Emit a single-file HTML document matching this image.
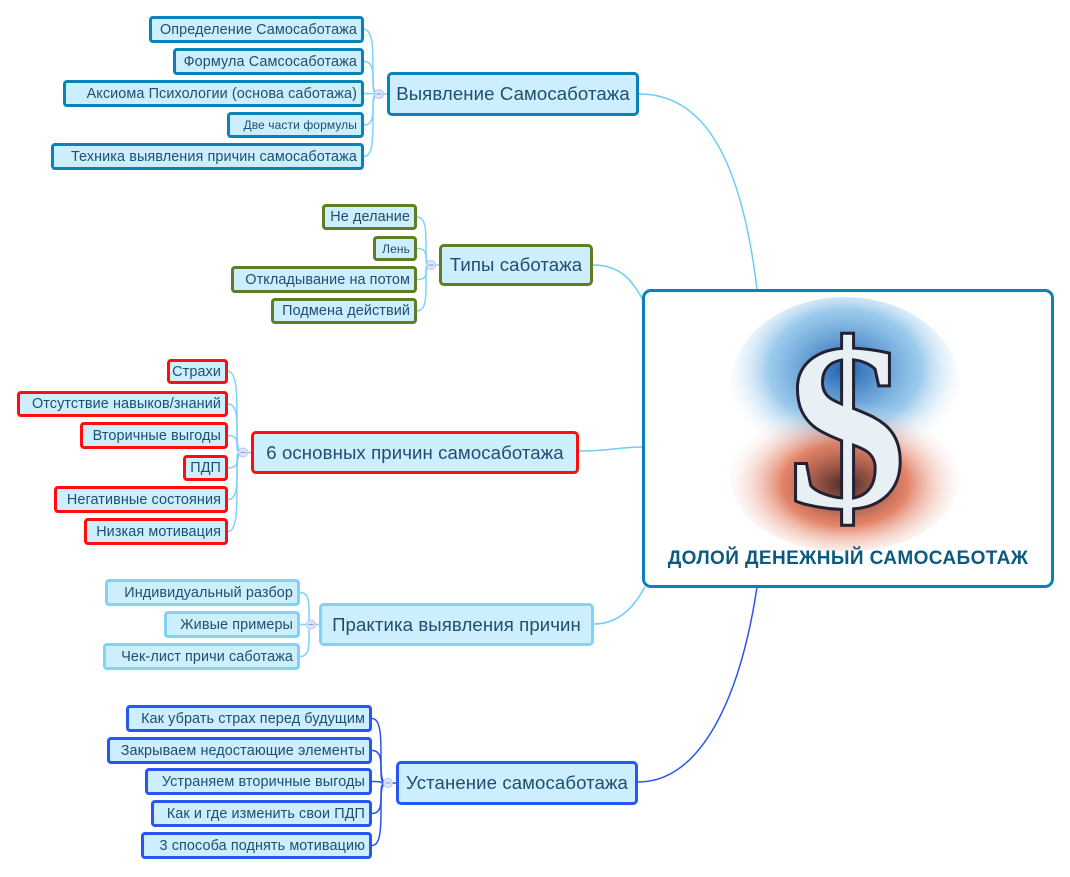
<!DOCTYPE html>
<html><head><meta charset="utf-8"><style>
body{margin:0;width:1070px;height:877px;background:#fff;position:relative;overflow:hidden;font-family:"Liberation Sans","DejaVu Sans",sans-serif}
.n{position:absolute;box-sizing:border-box;background:#cdeefc;border:3px solid #0a82b9;border-radius:4px;color:#1f4e70;font-size:14.4px;text-align:right;padding-right:4px;display:flex;align-items:center;justify-content:flex-end;white-space:nowrap;letter-spacing:0.1px}
.m{font-size:18.6px;justify-content:center;padding:0;border-radius:5px}
.g{border-color:#5f7d22}.r{border-color:#ff0d0d}.l{border-color:#7ed3f7}.b{border-color:#2855f5}
svg{position:absolute;left:0;top:0}
#root{position:absolute;left:642px;top:289px;width:412px;height:299px;box-sizing:border-box;border:3px solid #0a82b9;border-radius:9px;background:#fff}
#title{position:absolute;left:0;right:0;top:256px;text-align:center;font-weight:bold;font-size:19px;color:#0d5a80;letter-spacing:0.4px}
</style></head><body>
<svg id="s" width="1070" height="877"></svg>
<div id="root">
<svg width="412" height="299" style="position:absolute;left:0;top:0">
<defs>
<radialGradient id="bl" cx="50%" cy="40%" r="55%"><stop offset="0" stop-color="#1c5fb0"/><stop offset="0.6" stop-color="#5aa7e0" stop-opacity="0.6"/><stop offset="1" stop-color="#fff" stop-opacity="0"/></radialGradient>
<radialGradient id="rd" cx="50%" cy="55%" r="55%"><stop offset="0" stop-color="#4a2a2a"/><stop offset="0.5" stop-color="#d8502a" stop-opacity="0.7"/><stop offset="1" stop-color="#fff" stop-opacity="0"/></radialGradient>
</defs>
<ellipse cx="200" cy="95" rx="115" ry="90" fill="url(#bl)"/>
<ellipse cx="200" cy="185" rx="115" ry="75" fill="url(#rd)"/>
<text x="202" y="215" text-anchor="middle" font-family="Liberation Serif,serif" font-size="240" font-weight="bold" fill="#e8f0f6" stroke="#223" stroke-width="3">$</text>
</svg>
<div id="title">ДОЛОЙ ДЕНЕЖНЫЙ САМОСАБОТАЖ</div>
</div>

<div class="n m" id="m1" style="left:387px;top:72px;width:252px;height:44px">Выявление Самосаботажа</div>
<div class="n c1" style="left:149px;top:16px;width:215px;height:27px">Определение Самосаботажа</div>
<div class="n c1" style="left:173px;top:48px;width:191px;height:27px">Формула Самсосаботажа</div>
<div class="n c1" style="left:63px;top:80px;width:301px;height:27px">Аксиома Психологии (основа саботажа)</div>
<div class="n c1" style="left:227px;top:112px;width:137px;height:26px;font-size:12px">Две части формулы</div>
<div class="n c1" style="left:51px;top:143px;width:313px;height:27px">Техника выявления причин самосаботажа</div>

<div class="n m g" id="m2" style="left:439px;top:244px;width:154px;height:42px">Типы саботажа</div>
<div class="n g c2" style="left:322px;top:204px;width:95px;height:26px">Не делание</div>
<div class="n g c2" style="left:373px;top:236px;width:44px;height:25px;font-size:12px">Лень</div>
<div class="n g c2" style="left:231px;top:266px;width:186px;height:27px">Откладывание на потом</div>
<div class="n g c2" style="left:271px;top:298px;width:146px;height:26px">Подмена действий</div>

<div class="n m r" id="m3" style="left:251px;top:431px;width:328px;height:43px">6 основных причин самосаботажа</div>
<div class="n r c3" style="left:167px;top:359px;width:61px;height:25px">Страхи</div>
<div class="n r c3" style="left:17px;top:391px;width:211px;height:26px">Отсутствие навыков/знаний</div>
<div class="n r c3" style="left:80px;top:422px;width:148px;height:27px">Вторичные выгоды</div>
<div class="n r c3" style="left:183px;top:455px;width:45px;height:26px">ПДП</div>
<div class="n r c3" style="left:54px;top:486px;width:174px;height:27px">Негативные состояния</div>
<div class="n r c3" style="left:84px;top:518px;width:144px;height:27px">Низкая мотивация</div>

<div class="n m l" id="m4" style="left:319px;top:603px;width:275px;height:43px">Практика выявления причин</div>
<div class="n l c4" style="left:105px;top:579px;width:195px;height:27px">Индивидуальный разбор</div>
<div class="n l c4" style="left:164px;top:611px;width:136px;height:27px">Живые примеры</div>
<div class="n l c4" style="left:103px;top:643px;width:197px;height:27px">Чек-лист причи саботажа</div>

<div class="n m b" id="m5" style="left:396px;top:761px;width:242px;height:44px">Устанение самосаботажа</div>
<div class="n b c5" style="left:126px;top:705px;width:246px;height:27px">Как убрать страх перед будущим</div>
<div class="n b c5" style="left:107px;top:737px;width:265px;height:27px">Закрываем недостающие элементы</div>
<div class="n b c5" style="left:145px;top:768px;width:227px;height:27px">Устраняем вторичные выгоды</div>
<div class="n b c5" style="left:151px;top:800px;width:221px;height:27px">Как и где изменить свои ПДП</div>
<div class="n b c5" style="left:141px;top:832px;width:231px;height:27px">3 способа поднять мотивацию</div>

<script>
var s=document.getElementById('s'),h='';
function P(d,c,w){h+='<path d="'+d+'" fill="none" stroke="'+c+'" stroke-width="'+w+'"/>';}
P('M639,94 C700,94 740,150 757,289','#6dcdf7',1.5);
P('M593,265 C620,265 632,280 643,300','#6dcdf7',1.5);
P('M579,451 C610,451 620,447 642,447','#6dcdf7',1.5);
P('M594,624 C620,624 635,605 645,587','#6dcdf7',1.5);
P('M638,782 C700,782 740,700 757,587','#2a55f0',1.5);
for(var i=1;i<=5;i++){
 var m=document.getElementById('m'+i),mx=m.offsetLeft,my=m.offsetTop+m.offsetHeight/2;
 var col=i==5?'#2a55f0':'#80d3f8';
 var cx=mx-8;
 document.querySelectorAll('.c'+i).forEach(function(c){
  var cr=c.offsetLeft+c.offsetWidth,cy=c.offsetTop+c.offsetHeight/2,bx=cr+9;
  P('M'+cr+','+cy+' C'+(bx)+','+cy+' '+bx+','+(cy+(my-cy)*0.3)+' '+bx+','+(cy+(my-cy)*0.6)+' S'+(bx)+','+my+' '+cx+','+my,col,1.5);
 });
 P('M'+cx+','+my+' L'+mx+','+my,col,1.5);
 h+='<circle cx="'+cx+'" cy="'+my+'" r="4.5" fill="#dde4fb" stroke="#b8c4ee" stroke-width="1"/><line x1="'+(cx-2.5)+'" y1="'+my+'" x2="'+(cx+2.5)+'" y2="'+my+'" stroke="#8a9ad0" stroke-width="1"/>';
}
s.innerHTML=h;
</script>
</body></html>
